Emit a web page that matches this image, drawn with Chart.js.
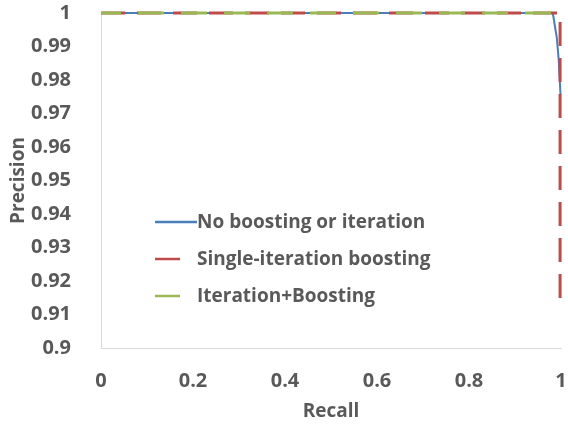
<!DOCTYPE html>
<html>
<head>
<meta charset="utf-8">
<script src="https://cdn.jsdelivr.net/npm/chart.js@4/dist/chart.umd.min.js"></script>
<style>
  html, body { margin: 0; padding: 0; background: #fff; }
  #wrap { width: 568px; height: 426px; }
</style>
</head>
<body>
<div id="wrap"><canvas id="prChart"></canvas></div>
<script>
const seriesNames = ['No boosting or iteration', 'Single-iteration boosting', 'Iteration+Boosting'];
const seriesColors = ['#4a7ebb', '#be4b48', '#98b954'];

const recallBlue = [0, 0.982, 0.984, 0.988, 0.991, 0.995, 0.999];
const precisionBlue = [1, 1, 0.9985, 0.995, 0.9925, 0.986, 0.9755];

const recallRed = [0, 0.998, 0.998];
const precisionRed = [1, 1, 0.9133];

const recallGreen = [0, 1];
const precisionGreen = [1, 1];

const xTicks = [0, 0.2, 0.4, 0.6, 0.8, 1];
const yTicks = [0.9, 0.91, 0.92, 0.93, 0.94, 0.95, 0.96, 0.97, 0.98, 0.99, 1];

const textColor = '#595959';
const fontFamily = '"Open Sans", "Liberation Sans", sans-serif';
const fontSize = 19;
const tickFontSize = 20;

function points(xs, ys) {
    return xs.map((x, i) => ({ x: x, y: ys[i] }));
}

// legend drawn inside the plot area
const insideLegend = {
    id: 'insideLegend',
    afterDraw(chart) {
        const ctx = chart.ctx;
        const area = chart.chartArea;
        const left = area.left + 54;
        const rows = [222, 259, 296];
        const lineLens = [42, 25, 25];
        ctx.save();
        ctx.font = 'bold ' + fontSize + 'px ' + fontFamily;
        ctx.textBaseline = 'middle';
        chart.data.datasets.forEach((ds, i) => {
            const y = rows[i];
            ctx.strokeStyle = ds.borderColor;
            ctx.lineWidth = 2.5;
            ctx.setLineDash([]);
            ctx.beginPath();
            ctx.moveTo(left, y);
            ctx.lineTo(left + lineLens[i], y);
            ctx.stroke();
            ctx.fillStyle = textColor;
            ctx.fillText(ds.label, left + 42, y + 1);
        });
        ctx.restore();
    }
};

new Chart(document.getElementById('prChart'), {
    type: 'scatter',
    data: {
        datasets: [
            {
                label: seriesNames[0],
                data: points(recallBlue, precisionBlue),
                borderColor: seriesColors[0],
                borderWidth: 2,
                showLine: true,
                pointRadius: 0,
                tension: 0,
                order: 3
            },
            {
                label: seriesNames[1],
                data: points(recallRed, precisionRed),
                borderColor: seriesColors[1],
                borderWidth: 3,
                borderDash: [24, 12],
                showLine: true,
                pointRadius: 0,
                order: 2
            },
            {
                label: seriesNames[2],
                data: points(recallGreen, precisionGreen),
                borderColor: seriesColors[2],
                borderWidth: 3,
                borderDash: [26, 17],
                borderDashOffset: 6,
                showLine: true,
                pointRadius: 0,
                order: 1
            }
        ]
    },
    options: {
        responsive: true,
        maintainAspectRatio: false,
        animation: false,
        clip: false,
        layout: { padding: { top: 13, right: 7, bottom: 0, left: 0 } },
        plugins: {
            legend: { display: false },
            tooltip: { enabled: false }
        },
        scales: {
            x: {
                type: 'linear',
                min: 0,
                max: 1,
                afterBuildTicks: axis => { axis.ticks = xTicks.map(v => ({ value: v })); },
                afterFit: axis => { axis.height = 78; axis.paddingLeft = 0; axis.paddingRight = 0; },
                grid: { display: false },
                border: { display: true, color: '#d9d9d9', width: 1 },
                ticks: {
                    color: textColor,
                    padding: 13,
                    font: { family: fontFamily, size: tickFontSize, weight: 'bold' },
                    callback: v => String(+v.toFixed(1))
                },
                title: {
                    display: true,
                    text: 'Recall',
                    color: textColor,
                    font: { family: fontFamily, size: fontSize, weight: 'bold' },
                    padding: { top: 4, bottom: 3 }
                }
            },
            y: {
                type: 'linear',
                min: 0.9,
                max: 1,
                afterBuildTicks: axis => { axis.ticks = yTicks.map(v => ({ value: v })); },
                afterFit: axis => { axis.width = 101; axis.paddingTop = 0; axis.paddingBottom = 0; },
                grid: { display: false },
                border: { display: true, color: '#d9d9d9', width: 1 },
                ticks: {
                    color: textColor,
                    padding: 22,
                    font: { family: fontFamily, size: tickFontSize, weight: 'bold' },
                    callback: v => String(+v.toFixed(2))
                },
                title: {
                    display: true,
                    text: 'Precision',
                    color: textColor,
                    font: { family: fontFamily, size: fontSize, weight: 'bold' },
                    padding: { top: 7, bottom: 4 }
                }
            }
        }
    },
    plugins: [insideLegend]
});
</script>
</body>
</html>
